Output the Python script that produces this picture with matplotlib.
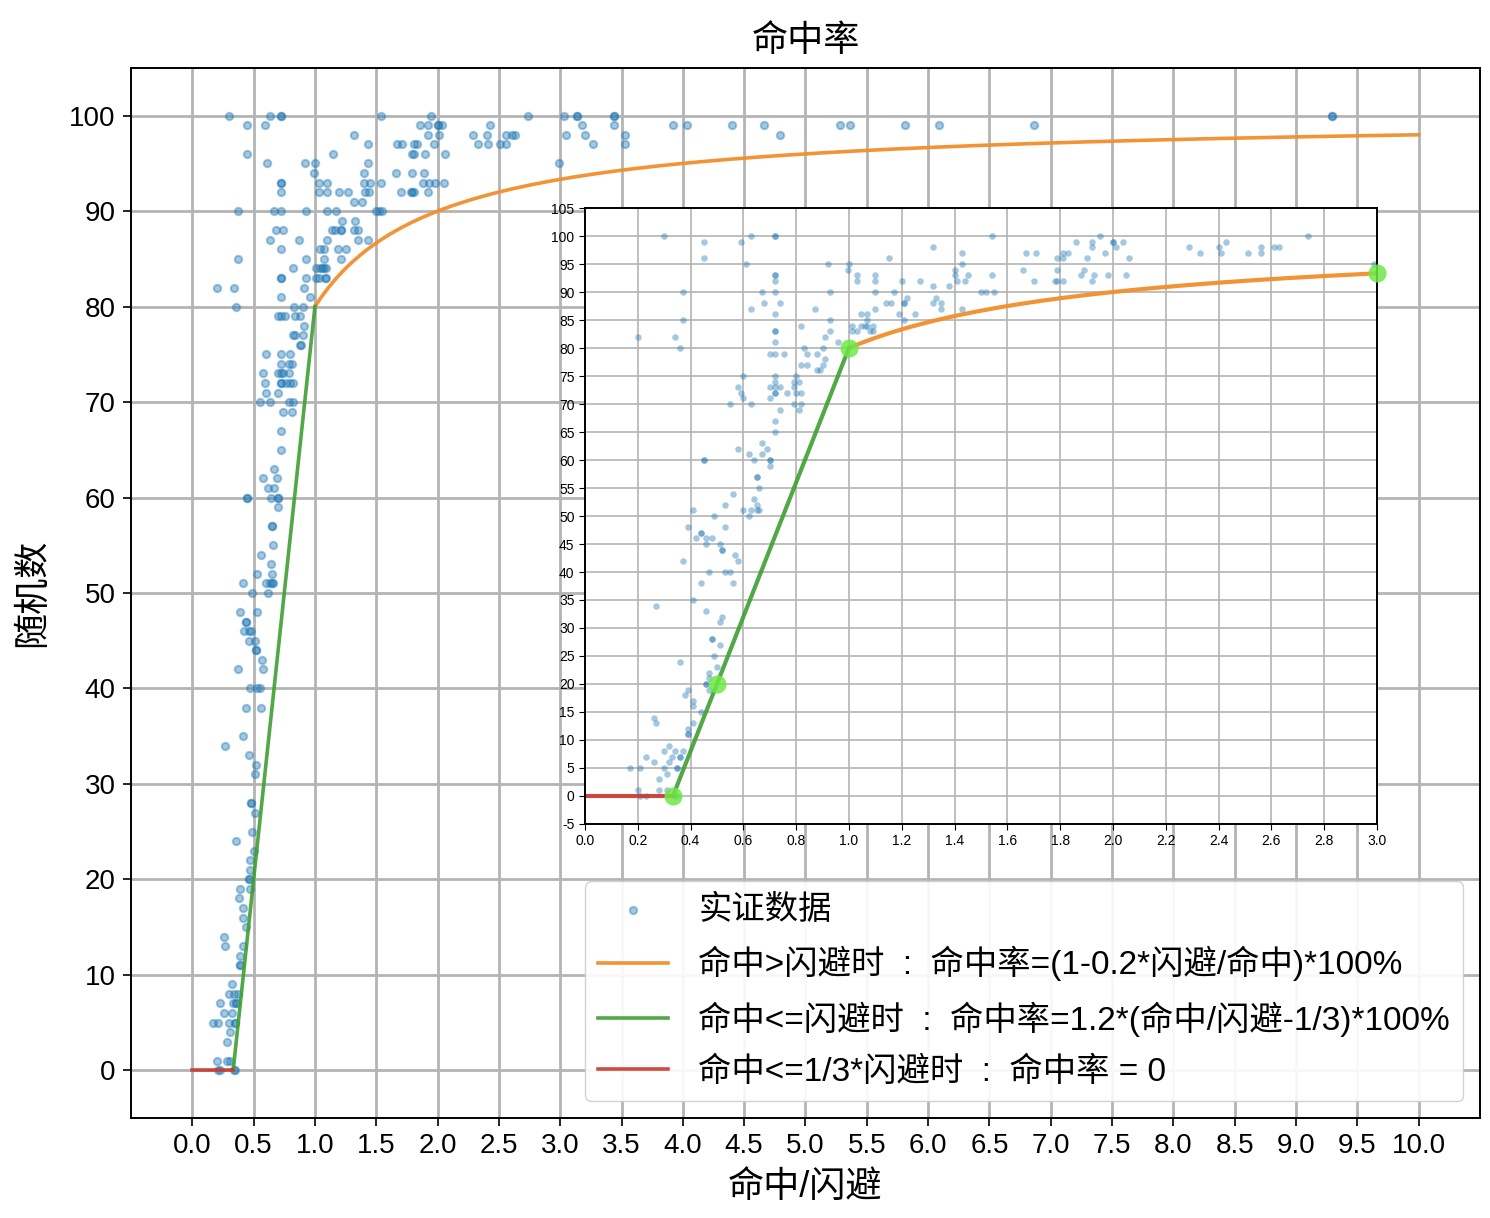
import numpy as np
import matplotlib
matplotlib.use('Agg')
import matplotlib.pyplot as plt

plt.rcParams['font.family'] = ['Liberation Sans', 'Noto Sans CJK SC']
plt.rcParams['axes.unicode_minus'] = False

# empirical samples: hit/dodge ratio vs roll, read off the chart
# low part (roll < 67)
ratio_low = [0.72, 0.72, 0.67, 0.69, 0.67, 0.70, 0.70, 0.70, 0.58, 0.62, 0.64, 0.45, 0.45,
             0.65, 0.65, 0.66, 0.56, 0.64, 0.65, 0.60, 0.63, 0.65, 0.66, 0.62, 0.53, 0.41,
             0.49, 0.39, 0.53, 0.44, 0.44, 0.42, 0.46, 0.48, 0.46, 0.51, 0.52, 0.52, 0.57,
             0.58, 0.37, 0.47, 0.53, 0.55, 0.44, 0.56, 0.41, 0.27, 0.46, 0.52, 0.51, 0.48,
             0.48, 0.51, 0.49, 0.36, 0.50, 0.47, 0.47, 0.46, 0.46, 0.47, 0.39, 0.38, 0.41,
             0.41, 0.44, 0.26, 0.27, 0.41, 0.39, 0.39, 0.39, 0.32, 0.30, 0.34, 0.37, 0.33,
             0.36, 0.36, 0.23, 0.26, 0.32, 0.17, 0.21, 0.30, 0.35, 0.35, 0.31, 0.28, 0.20,
             0.28, 0.31, 0.21, 0.23, 0.34, 0.35]
roll_low = [67, 65, 63, 62, 61, 60, 60, 59, 62, 61, 60, 60, 60,
            57, 57, 55, 54, 53, 52, 51, 51, 51, 51, 50, 52, 51,
            50, 48, 48, 47, 47, 46, 46, 46, 45, 45, 44, 44, 43,
            42, 42, 40, 40, 40, 38, 38, 35, 34, 33, 32, 31, 28,
            28, 27, 25, 24, 23, 22, 21, 20, 20, 19, 19, 18, 17,
            16, 15, 14, 13, 13, 12, 11, 11, 9, 8, 8, 8, 7,
            7, 7, 7, 6, 6, 5, 5, 5, 5, 5, 4, 3, 1,
            1, 1, 0, 0, 0, 0]

# high part, ratio < 1.6
ratio_mid = [0.30, 0.45, 0.45, 0.59, 0.63, 0.72, 0.72, 0.61, 0.72, 0.72, 0.72, 0.67, 0.72,
             0.68, 0.74, 0.63, 0.72, 0.37, 0.37, 0.20, 0.34, 0.36, 0.72, 0.72, 0.72, 0.70,
             0.72, 0.755, 0.60, 0.58, 0.59, 0.60, 0.55, 0.63, 0.72, 0.72, 0.72, 0.72, 0.72,
             0.70, 0.74, 0.765, 0.70, 0.74, 0.80, 0.79, 0.81, 0.79, 0.80, 0.82, 0.79, 0.82,
             0.81, 0.82, 0.87, 0.92, 0.93, 0.93, 0.93, 0.91, 0.96, 0.83, 0.84, 0.88, 0.90,
             0.91, 0.90, 0.82, 0.84, 0.88, 0.89, 1.00, 0.995, 1.03, 1.03, 1.10, 1.10, 1.10,
             1.15, 1.17, 1.20, 1.27, 1.22, 1.21, 1.21, 1.14, 1.16, 1.10, 1.19, 1.21, 1.25,
             1.045, 1.07, 1.07, 1.01, 1.045, 1.06, 1.07, 1.09, 1.01, 1.03, 1.08, 1.09, 1.32,
             1.43, 1.43, 1.40, 1.40, 1.41, 1.45, 1.44, 1.32, 1.33, 1.38, 1.32, 1.35, 1.35,
             1.43, 1.50, 1.52, 1.55, 1.54, 1.54]
roll_mid = [100, 99, 96, 99, 100, 100, 100, 95, 93, 93, 92, 90, 90,
            88, 88, 87, 86, 90, 85, 82, 82, 80, 83, 83, 81, 79,
            79, 79, 75, 73, 72, 71, 70, 70, 75, 74, 73, 72, 72,
            73, 73, 72, 71, 69, 75, 74, 74, 73, 72, 72, 70, 70,
            69, 84, 87, 95, 90, 85, 83, 82, 81, 80, 79, 79, 80,
            78, 77, 77, 77, 76, 76, 95, 94, 93, 92, 93, 92, 90,
            96, 90, 92, 92, 89, 88, 88, 88, 88, 87, 86, 85, 86,
            86, 86, 85, 84, 84, 84, 84, 84, 83, 83, 83, 83, 98,
            97, 95, 94, 93, 92, 93, 92, 91, 89, 91, 88, 88, 87,
            87, 90, 90, 90, 100, 93]

# high part, ratio >= 1.6
ratio_high = [1.66, 1.67, 1.71, 1.70, 1.79, 1.81, 1.81, 1.83, 1.79, 1.78, 1.79, 1.81, 1.86,
              1.92, 1.92, 1.95, 2.00, 2.00, 2.01, 2.04, 1.90, 1.97, 2.06, 1.89, 1.88, 1.93,
              1.98, 2.05, 1.92, 2.29, 2.33, 2.40, 2.43, 2.41, 2.51, 2.56, 2.56, 2.61, 2.63,
              2.74, 2.99, 3.03, 3.14, 3.14, 3.44, 3.44, 3.05, 3.20, 3.53, 3.27, 3.53, 3.18,
              3.44, 3.92, 4.03, 4.40, 4.66, 4.79, 5.28, 5.36, 5.81, 6.09, 6.86, 9.29, 9.29]
roll_high = [94, 97, 97, 92, 96, 97, 96, 97, 94, 92, 92, 92, 99,
             99, 98, 100, 99, 99, 98, 99, 96, 97, 96, 94, 93, 93,
             93, 93, 92, 98, 97, 98, 99, 97, 97, 98, 97, 98, 98,
             100, 95, 100, 100, 100, 100, 100, 98, 98, 98, 97, 97, 99,
             99, 99, 99, 99, 99, 98, 99, 99, 99, 99, 99, 100, 100]

ratio = np.array(ratio_low + ratio_mid + ratio_high)
roll = np.array(roll_low + roll_mid + roll_high)

# model curves (formulas given in the legend)
x_hi = np.linspace(1, 10, 300)
y_hi = (1 - 0.2 / x_hi) * 100
x_mid = np.array([1 / 3, 1.0])
y_mid = 1.2 * (x_mid - 1 / 3) * 100
x_lo = np.array([0, 1 / 3])
y_lo = np.array([0, 0])
key_x = np.array([1 / 3, 0.5, 1.0, 3.0])
key_y = np.where(key_x > 1, (1 - 0.2 / key_x) * 100, 1.2 * (key_x - 1 / 3) * 100)

c_orange = '#f28e2b'
c_green = '#3f9f32'
c_red = '#c8392f'
c_grid = '#b4b4b4'

fig = plt.figure(figsize=(14.9, 12.18), dpi=100)
ax = fig.add_axes([0.0879, 0.0821, 0.9054, 0.8621])
ax.grid(True, color=c_grid, lw=2)
ax.set_axisbelow(True)
ax.scatter(ratio, roll, s=28, color='#1f77b4', alpha=0.4, linewidths=1.5, label='实证数据')
ax.plot(x_hi, y_hi, color=c_orange, lw=2.6, alpha=0.95, label='命中>闪避时  :  命中率=(1-0.2*闪避/命中)*100%')
ax.plot(x_mid, y_mid, color=c_green, lw=2.6, alpha=0.9, label='命中<=闪避时  :  命中率=1.2*(命中/闪避-1/3)*100%')
ax.plot(x_lo, y_lo, color=c_red, lw=2.6, alpha=0.9, label='命中<=1/3*闪避时  :  命中率 = 0')
ax.set_xlim(-0.5, 10.5)
ax.set_ylim(-5, 105)
ax.set_xticks(np.arange(0, 10.01, 0.5))
ax.set_yticks(np.arange(0, 101, 10))
ax.tick_params(labelsize=20, length=6, width=1.2, pad=5)
for s in ax.spines.values():
    s.set_linewidth(1.4)
ax.set_title('命中率', fontsize=26, pad=12)
ax.set_xlabel('命中/闪避', fontsize=26, labelpad=8)
ax.set_ylabel('随机数', fontsize=26, labelpad=14)
ax.legend(loc='lower right', fontsize=24, handlelength=2.1, handletextpad=0.9,
          labelspacing=0.6, borderaxespad=0.5, framealpha=0.9, edgecolor='#cccccc')

# inset zoom on 0..3
axin = fig.add_axes([0.3926, 0.3235, 0.5315, 0.5057])
axin.grid(True, color=c_grid, lw=1.2)
axin.set_axisbelow(True)
axin.scatter(ratio, roll, s=22, color='#1f77b4', alpha=0.4, linewidths=0)
axin.plot(x_hi, y_hi, color=c_orange, lw=3, alpha=0.95)
axin.plot(x_mid, y_mid, color=c_green, lw=3, alpha=0.9)
axin.plot(x_lo, y_lo, color=c_red, lw=3, alpha=0.9)
axin.scatter(key_x, key_y, s=170, color='#6ee846', alpha=0.85, linewidths=0, zorder=5, clip_on=False)
axin.set_xlim(0, 3)
axin.set_ylim(-5, 105)
axin.set_xticks(np.arange(0, 3.01, 0.2))
axin.set_yticks(np.arange(-5, 106, 5))
axin.tick_params(labelsize=10, length=4)
for s in axin.spines.values():
    s.set_linewidth(1.4)

fig.savefig('out.png', dpi=100)
